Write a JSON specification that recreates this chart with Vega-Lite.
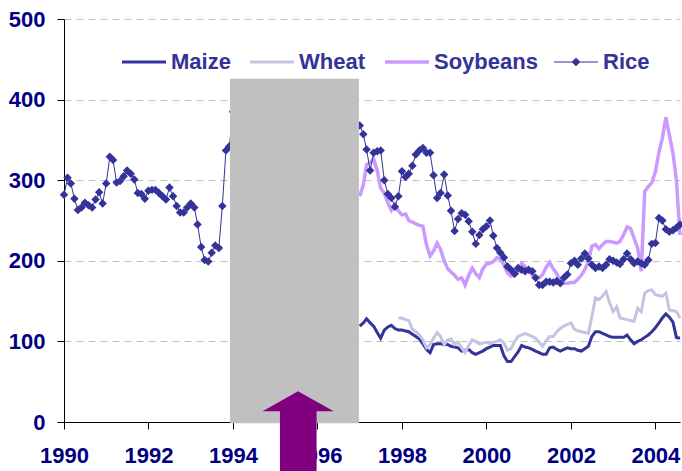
{
  "$schema": "https://vega.github.io/schema/vega-lite/v6.json",
  "width": 616,
  "height": 403,
  "autosize": "none",
  "padding": {"left": 64, "top": 19, "right": 2, "bottom": 49},
  "background": "#ffffff",
  "config": {
    "view": {"stroke": null},
    "axis": {
      "domainColor": "#000000",
      "tickColor": "#000000",
      "labelFont": "Liberation Sans",
      "labelFontWeight": "bold",
      "labelFontSize": 22,
      "labelColor": "#000080",
      "tickSize": 7,
      "grid": false,
      "labelFlush": false,
      "labelOverlap": false
    },
    "axisY": {"grid": true, "gridColor": "#c0c0c0", "gridDash": [7, 5], "labelPadding": 12},
    "axisX": {"labelPadding": 16}
  },
  "datasets": {
    "prices": [
      {"date": "1990-01", "Rice": 282}, {"date": "1990-02", "Rice": 303}, {"date": "1990-03", "Rice": 296}, {"date": "1990-04", "Rice": 277},
      {"date": "1990-05", "Rice": 263}, {"date": "1990-06", "Rice": 266}, {"date": "1990-07", "Rice": 272}, {"date": "1990-08", "Rice": 269},
      {"date": "1990-09", "Rice": 266}, {"date": "1990-10", "Rice": 276}, {"date": "1990-11", "Rice": 285}, {"date": "1990-12", "Rice": 271},
      {"date": "1991-01", "Rice": 296}, {"date": "1991-02", "Rice": 329}, {"date": "1991-03", "Rice": 325}, {"date": "1991-04", "Rice": 297},
      {"date": "1991-05", "Rice": 299}, {"date": "1991-06", "Rice": 305}, {"date": "1991-07", "Rice": 312}, {"date": "1991-08", "Rice": 308},
      {"date": "1991-09", "Rice": 301}, {"date": "1991-10", "Rice": 284}, {"date": "1991-11", "Rice": 283}, {"date": "1991-12", "Rice": 277},
      {"date": "1992-01", "Rice": 287}, {"date": "1992-02", "Rice": 288}, {"date": "1992-03", "Rice": 288}, {"date": "1992-04", "Rice": 284},
      {"date": "1992-05", "Rice": 280}, {"date": "1992-06", "Rice": 276}, {"date": "1992-07", "Rice": 291}, {"date": "1992-08", "Rice": 280},
      {"date": "1992-09", "Rice": 268}, {"date": "1992-10", "Rice": 260}, {"date": "1992-11", "Rice": 260}, {"date": "1992-12", "Rice": 266},
      {"date": "1993-01", "Rice": 271}, {"date": "1993-02", "Rice": 266}, {"date": "1993-03", "Rice": 245}, {"date": "1993-04", "Rice": 217},
      {"date": "1993-05", "Rice": 201}, {"date": "1993-06", "Rice": 199}, {"date": "1993-07", "Rice": 210}, {"date": "1993-08", "Rice": 219},
      {"date": "1993-09", "Rice": 216}, {"date": "1993-10", "Rice": 268}, {"date": "1993-11", "Rice": 337}, {"date": "1993-12", "Rice": 342},
      {"date": "1994-01", "Rice": 385},
      {"date": "1997-01", "Maize": 119, "Soybeans": 280, "Rice": 368},
      {"date": "1997-02", "Maize": 123, "Soybeans": 294, "Rice": 357},
      {"date": "1997-03", "Maize": 128, "Soybeans": 319, "Rice": 338},
      {"date": "1997-04", "Maize": 123, "Soybeans": 322, "Rice": 312},
      {"date": "1997-05", "Maize": 119, "Soybeans": 326, "Rice": 334},
      {"date": "1997-06", "Maize": 111, "Soybeans": 312, "Rice": 336},
      {"date": "1997-07", "Maize": 104, "Soybeans": 290, "Rice": 337},
      {"date": "1997-08", "Maize": 114, "Soybeans": 284, "Rice": 300},
      {"date": "1997-09", "Maize": 118, "Soybeans": 272, "Rice": 283},
      {"date": "1997-10", "Maize": 120, "Soybeans": 263, "Rice": 278},
      {"date": "1997-11", "Maize": 116, "Soybeans": 270, "Rice": 267},
      {"date": "1997-12", "Maize": 114, "Wheat": 129, "Soybeans": 262, "Rice": 280},
      {"date": "1998-01", "Maize": 114, "Wheat": 129, "Soybeans": 257, "Rice": 311},
      {"date": "1998-02", "Maize": 113, "Wheat": 127, "Soybeans": 258, "Rice": 304},
      {"date": "1998-03", "Maize": 112, "Wheat": 126, "Soybeans": 250, "Rice": 308},
      {"date": "1998-04", "Maize": 109, "Wheat": 115, "Soybeans": 248, "Rice": 318},
      {"date": "1998-05", "Maize": 106, "Wheat": 112, "Soybeans": 246, "Rice": 332},
      {"date": "1998-06", "Maize": 103, "Wheat": 108, "Soybeans": 244, "Rice": 337},
      {"date": "1998-07", "Maize": 97, "Wheat": 102, "Soybeans": 243, "Rice": 340},
      {"date": "1998-08", "Maize": 90, "Wheat": 92, "Soybeans": 220, "Rice": 334},
      {"date": "1998-09", "Maize": 86, "Wheat": 96, "Soybeans": 206, "Rice": 334},
      {"date": "1998-10", "Maize": 96, "Wheat": 104, "Soybeans": 212, "Rice": 306},
      {"date": "1998-11", "Maize": 97, "Wheat": 111, "Soybeans": 222, "Rice": 278},
      {"date": "1998-12", "Maize": 97, "Wheat": 106, "Soybeans": 214, "Rice": 284},
      {"date": "1999-01", "Maize": 96, "Wheat": 96, "Soybeans": 200, "Rice": 307},
      {"date": "1999-02", "Maize": 96, "Wheat": 102, "Soybeans": 190, "Rice": 281},
      {"date": "1999-03", "Maize": 94, "Wheat": 103, "Soybeans": 186, "Rice": 262},
      {"date": "1999-04", "Maize": 93, "Wheat": 96, "Soybeans": 182, "Rice": 237},
      {"date": "1999-05", "Maize": 92, "Wheat": 99, "Soybeans": 177, "Rice": 252},
      {"date": "1999-06", "Maize": 88, "Wheat": 92, "Soybeans": 179, "Rice": 259},
      {"date": "1999-07", "Maize": 89, "Wheat": 86, "Soybeans": 170, "Rice": 257},
      {"date": "1999-08", "Maize": 90, "Wheat": 95, "Soybeans": 182, "Rice": 249},
      {"date": "1999-09", "Maize": 86, "Wheat": 102, "Soybeans": 191, "Rice": 236},
      {"date": "1999-10", "Maize": 84, "Wheat": 100, "Soybeans": 184, "Rice": 221},
      {"date": "1999-11", "Maize": 86, "Wheat": 97, "Soybeans": 179, "Rice": 232},
      {"date": "1999-12", "Maize": 88, "Wheat": 98, "Soybeans": 190, "Rice": 239},
      {"date": "2000-01", "Maize": 91, "Wheat": 99, "Soybeans": 196, "Rice": 243},
      {"date": "2000-02", "Maize": 93, "Wheat": 97, "Soybeans": 197, "Rice": 250},
      {"date": "2000-03", "Maize": 95, "Wheat": 99, "Soybeans": 199, "Rice": 231},
      {"date": "2000-04", "Maize": 95, "Wheat": 100, "Soybeans": 204, "Rice": 216},
      {"date": "2000-05", "Maize": 95, "Wheat": 102, "Soybeans": 202, "Rice": 210},
      {"date": "2000-06", "Maize": 82, "Wheat": 98, "Soybeans": 195, "Rice": 204},
      {"date": "2000-07", "Maize": 75, "Wheat": 89, "Soybeans": 185, "Rice": 193},
      {"date": "2000-08", "Maize": 75, "Wheat": 91, "Soybeans": 181, "Rice": 189},
      {"date": "2000-09", "Maize": 81, "Wheat": 100, "Soybeans": 182, "Rice": 184},
      {"date": "2000-10", "Maize": 87, "Wheat": 106, "Soybeans": 186, "Rice": 191},
      {"date": "2000-11", "Maize": 95, "Wheat": 108, "Soybeans": 197, "Rice": 189},
      {"date": "2000-12", "Maize": 93, "Wheat": 110, "Soybeans": 193, "Rice": 187},
      {"date": "2001-01", "Maize": 92, "Wheat": 108, "Soybeans": 188, "Rice": 189},
      {"date": "2001-02", "Maize": 90, "Wheat": 106, "Soybeans": 182, "Rice": 187},
      {"date": "2001-03", "Maize": 88, "Wheat": 104, "Soybeans": 180, "Rice": 179},
      {"date": "2001-04", "Maize": 86, "Wheat": 99, "Soybeans": 179, "Rice": 170},
      {"date": "2001-05", "Maize": 84, "Wheat": 94, "Soybeans": 183, "Rice": 170},
      {"date": "2001-06", "Maize": 84, "Wheat": 101, "Soybeans": 192, "Rice": 174},
      {"date": "2001-07", "Maize": 92, "Wheat": 106, "Soybeans": 198, "Rice": 174},
      {"date": "2001-08", "Maize": 93, "Wheat": 106, "Soybeans": 190, "Rice": 173},
      {"date": "2001-09", "Maize": 90, "Wheat": 112, "Soybeans": 184, "Rice": 175},
      {"date": "2001-10", "Maize": 88, "Wheat": 116, "Soybeans": 174, "Rice": 172},
      {"date": "2001-11", "Maize": 90, "Wheat": 119, "Soybeans": 172, "Rice": 179},
      {"date": "2001-12", "Maize": 92, "Wheat": 121, "Soybeans": 172, "Rice": 183},
      {"date": "2002-01", "Maize": 91, "Wheat": 123, "Soybeans": 173, "Rice": 197},
      {"date": "2002-02", "Maize": 91, "Wheat": 115, "Soybeans": 173, "Rice": 200},
      {"date": "2002-03", "Maize": 89, "Wheat": 113, "Soybeans": 177, "Rice": 195},
      {"date": "2002-04", "Maize": 88, "Wheat": 112, "Soybeans": 182, "Rice": 203},
      {"date": "2002-05", "Maize": 91, "Wheat": 111, "Soybeans": 189, "Rice": 209},
      {"date": "2002-06", "Maize": 94, "Wheat": 110, "Soybeans": 200, "Rice": 203},
      {"date": "2002-07", "Maize": 106, "Wheat": 131, "Soybeans": 218, "Rice": 195},
      {"date": "2002-08", "Maize": 112, "Wheat": 154, "Soybeans": 220, "Rice": 191},
      {"date": "2002-09", "Maize": 112, "Wheat": 152, "Soybeans": 215, "Rice": 193},
      {"date": "2002-10", "Maize": 110, "Wheat": 156, "Soybeans": 220, "Rice": 191},
      {"date": "2002-11", "Maize": 108, "Wheat": 162, "Soybeans": 224, "Rice": 195},
      {"date": "2002-12", "Maize": 106, "Wheat": 148, "Soybeans": 224, "Rice": 202},
      {"date": "2003-01", "Maize": 105, "Wheat": 137, "Soybeans": 223, "Rice": 200},
      {"date": "2003-02", "Maize": 105, "Wheat": 143, "Soybeans": 222, "Rice": 198},
      {"date": "2003-03", "Maize": 105, "Wheat": 129, "Soybeans": 224, "Rice": 196},
      {"date": "2003-04", "Maize": 105, "Wheat": 128, "Soybeans": 232, "Rice": 202},
      {"date": "2003-05", "Maize": 108, "Wheat": 127, "Soybeans": 242, "Rice": 209},
      {"date": "2003-06", "Maize": 102, "Wheat": 126, "Soybeans": 240, "Rice": 202},
      {"date": "2003-07", "Maize": 97, "Wheat": 125, "Soybeans": 228, "Rice": 197},
      {"date": "2003-08", "Maize": 100, "Wheat": 141, "Soybeans": 216, "Rice": 199},
      {"date": "2003-09", "Maize": 102, "Wheat": 137, "Soybeans": 187, "Rice": 197},
      {"date": "2003-10", "Maize": 105, "Wheat": 160, "Soybeans": 286, "Rice": 195},
      {"date": "2003-11", "Maize": 108, "Wheat": 163, "Soybeans": 292, "Rice": 201},
      {"date": "2003-12", "Maize": 112, "Wheat": 164, "Soybeans": 297, "Rice": 221},
      {"date": "2004-01", "Maize": 117, "Wheat": 158, "Soybeans": 310, "Rice": 222},
      {"date": "2004-02", "Maize": 123, "Wheat": 157, "Soybeans": 335, "Rice": 253},
      {"date": "2004-03", "Maize": 129, "Wheat": 156, "Soybeans": 352, "Rice": 250},
      {"date": "2004-04", "Maize": 134, "Wheat": 160, "Soybeans": 378, "Rice": 239},
      {"date": "2004-05", "Maize": 130, "Wheat": 139, "Soybeans": 356, "Rice": 236},
      {"date": "2004-06", "Maize": 124, "Wheat": 138, "Soybeans": 334, "Rice": 238},
      {"date": "2004-07", "Maize": 105, "Wheat": 137, "Soybeans": 300, "Rice": 241},
      {"date": "2004-08", "Maize": 104, "Wheat": 129, "Soybeans": 232, "Rice": 245}
    ],
    "box": [{"start": "1993-12-06", "end": "1996-12-25", "top": 426, "bottom": -1.5}],
    "head": [
      {"date": "1994-09-14", "tip": 13.2, "base": 13.2},
      {"date": "1995-07-17", "tip": 38, "base": 13.2},
      {"date": "1996-05-21", "tip": 13.2, "base": 13.2}
    ],
    "shaft": [{"start": "1995-02-11", "end": "1995-12-25", "top": 13.5, "bottom": -70}]
  },
  "data": {"name": "prices"},
  "encoding": {
    "x": {
      "field": "date",
      "type": "temporal",
      "title": null,
      "scale": {"type": "utc", "domain": [{"year": 1990, "month": 1, "date": 1, "utc": true}, {"year": 2004, "month": 8, "date": 1, "utc": true}]},
      "axis": {
        "format": "%Y",
        "values": [
          {"year": 1990, "month": 1, "date": 1, "utc": true}, {"year": 1992, "month": 1, "date": 1, "utc": true},
          {"year": 1994, "month": 1, "date": 1, "utc": true}, {"year": 1996, "month": 1, "date": 1, "utc": true},
          {"year": 1998, "month": 1, "date": 1, "utc": true}, {"year": 2000, "month": 1, "date": 1, "utc": true},
          {"year": 2002, "month": 1, "date": 1, "utc": true}, {"year": 2004, "month": 1, "date": 1, "utc": true}
        ]
      }
    }
  },
  "layer": [
    {
      "mark": {"type": "line", "strokeWidth": 3},
      "encoding": {
        "y": {"field": "Maize", "type": "quantitative", "title": null, "scale": {"domain": [0, 500], "nice": false}, "axis": {"values": [0, 100, 200, 300, 400, 500]}},
        "color": {
          "datum": "Maize",
          "type": "nominal",
          "scale": {"domain": ["Maize", "Wheat", "Soybeans", "Rice"], "range": ["#333399", "#c4c4e2", "#cc99ff", "#333399"]},
          "legend": {
            "orient": "none",
            "legendX": 58,
            "legendY": 32,
            "direction": "horizontal",
            "title": null,
            "symbolType": "stroke",
            "symbolSize": 1936,
            "symbolStrokeWidth": 3,
            "labelFont": "Liberation Sans",
            "labelFontSize": 22,
            "labelFontWeight": "bold",
            "labelColor": "#333399",
            "labelOffset": 5,
            "labelLimit": 300,
            "columnPadding": 13,
            "encode": {
              "symbols": {
                "update": {
                  "x": {"value": 22},
                  "shape": {"signal": "datum.value === 'Rice' ? 'M-1,0L1,0M0,-0.16L0.16,0L0,0.16L-0.16,0Z' : 'stroke'"},
                  "strokeWidth": {"signal": "datum.value === 'Rice' ? 1.2 : (datum.value === 'Soybeans' ? 3.5 : 3)"},
                  "fill": {"signal": "datum.value === 'Rice' ? '#333399' : 'transparent'"},
                  "opacity": {"value": 1}
                }
              },
              "labels": {
                "update": {
                  "x": {"value": 49}
                }
              }
            }
          }
        }
      }
    },
    {
      "mark": {"type": "line", "strokeWidth": 3},
      "encoding": {
        "y": {"field": "Wheat", "type": "quantitative", "title": null},
        "color": {"datum": "Wheat", "type": "nominal"}
      }
    },
    {
      "mark": {"type": "line", "strokeWidth": 3.5},
      "encoding": {
        "y": {"field": "Soybeans", "type": "quantitative", "title": null},
        "color": {"datum": "Soybeans", "type": "nominal"}
      }
    },
    {
      "mark": {"type": "line", "strokeWidth": 1},
      "encoding": {
        "y": {"field": "Rice", "type": "quantitative", "title": null},
        "color": {"datum": "Rice", "type": "nominal"}
      }
    },
    {
      "mark": {"type": "point", "shape": "diamond", "filled": true, "size": 72, "color": "#333399", "opacity": 1},
      "encoding": {
        "y": {"field": "Rice", "type": "quantitative", "title": null}
      }
    },
    {
      "data": {"name": "box"},
      "mark": {"type": "rect", "color": "#c0c0c0"},
      "encoding": {
        "x": {"field": "start", "type": "temporal", "title": null},
        "x2": {"field": "end"},
        "y": {"field": "top", "type": "quantitative", "title": null},
        "y2": {"field": "bottom"}
      }
    },
    {
      "data": {"name": "shaft"},
      "mark": {"type": "rect", "color": "#800080"},
      "encoding": {
        "x": {"field": "start", "type": "temporal", "title": null},
        "x2": {"field": "end"},
        "y": {"field": "top", "type": "quantitative", "title": null},
        "y2": {"field": "bottom"}
      }
    },
    {
      "data": {"name": "head"},
      "mark": {"type": "area", "color": "#800080", "opacity": 1},
      "encoding": {
        "y": {"field": "tip", "type": "quantitative", "title": null},
        "y2": {"field": "base"}
      }
    }
  ]
}
